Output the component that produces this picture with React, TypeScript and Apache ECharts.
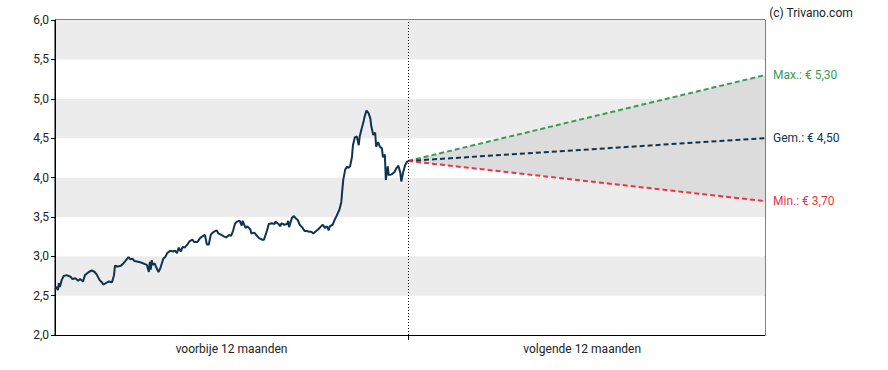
import React, { useEffect, useRef } from "react";
import * as echarts from "echarts";

// Historical prices: day index (0..365) and closing value
const histDays = [
  0, 2, 3, 4, 5, 7, 9, 12, 16, 18, 21, 24, 26, 29, 31, 33, 35, 38, 41, 43, 46, 49, 50, 54, 56, 59, 61, 62, 65, 68, 70, 72, 74, 76, 78, 80, 82, 86, 89, 93, 95,
  97, 98, 99, 100, 101, 103, 105, 107, 109, 112, 114, 116, 119, 122, 124, 126, 128, 130, 132, 134, 137, 139, 142, 144, 147, 150, 152, 155, 157, 159, 161, 163,
  167, 169, 172, 175, 177, 180, 182, 184, 186, 188, 191, 193, 194, 197, 199, 202, 203, 206, 208, 211, 214, 216, 219, 221, 224, 227, 228, 231, 233, 234, 237,
  240, 241, 242, 245, 247, 249, 251, 253, 256, 258, 260, 263, 265, 267, 270, 272, 275, 277, 279, 281, 283, 284, 287, 289, 291, 294, 296, 297, 298, 300, 302,
  303, 305, 307, 308, 310, 312, 314, 315, 317, 319, 320, 322, 324, 326, 327, 329, 331, 332, 334, 336, 338, 339, 341, 342, 344, 345, 348, 351, 353, 355, 357,
  358, 360, 362, 364, 365,
];
const histValues = [
  2.58, 2.61, 2.57, 2.66, 2.61, 2.7, 2.75, 2.76, 2.74, 2.71, 2.72, 2.69, 2.71, 2.68, 2.76, 2.78, 2.8, 2.82, 2.8, 2.77, 2.7, 2.66, 2.64, 2.67, 2.68, 2.67, 2.76,
  2.88, 2.87, 2.88, 2.9, 2.93, 2.96, 2.99, 2.96, 2.97, 2.94, 2.93, 2.92, 2.9, 2.89,
  2.8, 2.93, 2.83, 2.95, 2.89, 2.91, 2.85, 2.8, 2.85, 2.97, 2.99, 3.04, 3.07, 3.06, 3.07, 3.04, 3.11, 3.06, 3.12, 3.11, 3.15, 3.19, 3.21, 3.18, 3.18, 3.23,
  3.25, 3.27, 3.15, 3.15, 3.27, 3.3, 3.33, 3.29, 3.27, 3.25, 3.24, 3.27, 3.26, 3.32, 3.41, 3.44, 3.45, 3.39, 3.45, 3.36, 3.38, 3.34, 3.29, 3.3, 3.27, 3.23,
  3.21, 3.21, 3.32, 3.41, 3.42, 3.41, 3.44, 3.41, 3.38, 3.42, 3.4, 3.41, 3.45, 3.37, 3.49, 3.51, 3.48, 3.46, 3.4, 3.36, 3.32, 3.32, 3.31, 3.31, 3.29, 3.32,
  3.34, 3.38, 3.4, 3.36, 3.38, 3.33, 3.38, 3.4, 3.46, 3.51, 3.59, 3.69, 3.84, 3.97, 4.1, 4.14, 4.12, 4.14, 4.26, 4.41, 4.51, 4.52, 4.41, 4.52, 4.62, 4.71,
  4.77, 4.85, 4.82, 4.75, 4.65, 4.54, 4.57, 4.39, 4.45, 4.39, 4.37, 4.26, 4.29, 3.97, 4.14, 4.03, 4.04, 4.07, 4.12, 4.15, 4.06, 3.95, 4.07, 4.16, 4.2, 4.21,
];

// Forecast (next 12 months)
const todayDay = 365;
const forecastEndDay = 734;
const forecastDays = [todayDay, forecastEndDay];
const forecastStart = 4.21;
const maxValues = [forecastStart, 5.3];
const avgValues = [forecastStart, 4.5];
const minValues = [forecastStart, 3.7];

const periodLabels = ["voorbije 12 maanden", "volgende 12 maanden"];
const periodCenters = [182.5, 545];
const forecastLabels = ["Max.: € 5,30", "Gem.: € 4,50", "Min.: € 3,70"];
const yTicks = ["2,0", "2,5", "3,0", "3,5", "4,0", "4,5", "5,0", "5,5", "6,0"];
const copyright = "(c) Trivano.com";

const FONT = "Roboto, 'Noto Sans', sans-serif";

export default function App() {
  const ref = useRef<HTMLDivElement>(null);

  useEffect(() => {
    document.body.style.margin = "0";
    if (!ref.current) return;
    const chart = echarts.init(ref.current, undefined, { renderer: "svg" });

    const hist = histDays.map((d, i) => [d, histValues[i]]);
    const pairs = (vals: number[]) => forecastDays.map((d, i) => [d, vals[i]]);

    const endLabel = (text: string, color: string) => ({
      show: true,
      formatter: () => text,
      color,
      fontSize: 12,
      fontFamily: FONT,
      distance: 8,
    });

    chart.setOption({
      animation: false,
      textStyle: { fontFamily: FONT },
      title: {
        text: copyright,
        right: 30,
        top: 2,
        textStyle: { fontSize: 12, fontWeight: "normal", color: "#222", fontFamily: FONT },
      },
      grid: {
        left: 55,
        right: 123,
        top: 20,
        bottom: 35,
        show: true,
        borderColor: "#000",
        borderWidth: 1,
        backgroundColor: "transparent",
      },
      xAxis: {
        type: "value",
        min: 0,
        max: forecastEndDay,
        axisLine: { show: true, lineStyle: { color: "#000", width: 1 } },
        splitLine: { show: false },
        axisTick: { show: true, customValues: [todayDay], length: 5, lineStyle: { color: "#000" } },
        axisLabel: {
          show: true,
          customValues: periodCenters,
          formatter: (v: number) => {
            const idx = periodCenters.indexOf(v);
            return idx >= 0 ? periodLabels[idx] : "";
          },
          color: "#222",
          fontSize: 12,
          margin: 8,
          fontFamily: FONT,
        },
      },
      yAxis: {
        type: "value",
        min: 2,
        max: 6,
        interval: 0.5,
        axisLine: { show: true, lineStyle: { color: "#000", width: 1 } },
        axisTick: { show: true, length: 4, lineStyle: { color: "#000" } },
        axisLabel: {
          formatter: (v: number) => yTicks[Math.round((v - 2) / 0.5)] ?? "",
          color: "#222",
          fontSize: 12,
          margin: 6,
          fontFamily: FONT,
        },
        splitLine: { show: false },
        splitArea: { show: true, areaStyle: { color: ["#ffffff", "#ececec"] } },
      },
      series: [
        {
          type: "custom",
          name: "cone",
          silent: true,
          z: 1,
          data: [0],
          renderItem: (_params: any, api: any) => {
            const upper = forecastDays.map((d, i) => api.coord([d, maxValues[i]]));
            const lower = forecastDays.map((d, i) => api.coord([d, minValues[i]])).reverse();
            return {
              type: "polygon",
              shape: { points: upper.concat(lower) },
              style: { fill: "#dcdcdc" },
            };
          },
        },
        {
          type: "line",
          name: "hist",
          data: hist,
          symbol: "none",
          lineStyle: { color: "#0d3553", width: 2 },
          z: 3,
          markLine: {
            silent: true,
            symbol: "none",
            label: { show: false },
            lineStyle: { color: "#000", width: 1, type: [1, 2] },
            data: [{ xAxis: todayDay }],
          },
        },
        {
          type: "line",
          name: "max",
          data: pairs(maxValues),
          symbol: "none",
          lineStyle: { color: "#3a9a5b", width: 2, type: [5, 3] },
          endLabel: endLabel(forecastLabels[0], "#3a9a5b"),
          z: 2,
        },
        {
          type: "line",
          name: "avg",
          data: pairs(avgValues),
          symbol: "none",
          lineStyle: { color: "#0d3553", width: 2, type: [5, 3] },
          endLabel: endLabel(forecastLabels[1], "#0d3553"),
          z: 2,
        },
        {
          type: "line",
          name: "min",
          data: pairs(minValues),
          symbol: "none",
          lineStyle: { color: "#ee3344", width: 2, type: [5, 3] },
          endLabel: endLabel(forecastLabels[2], "#ee3344"),
          z: 2,
        },
      ],
    });

    return () => chart.dispose();
  }, []);

  return <div ref={ref} style={{ width: 888, height: 370 }} />;
}
